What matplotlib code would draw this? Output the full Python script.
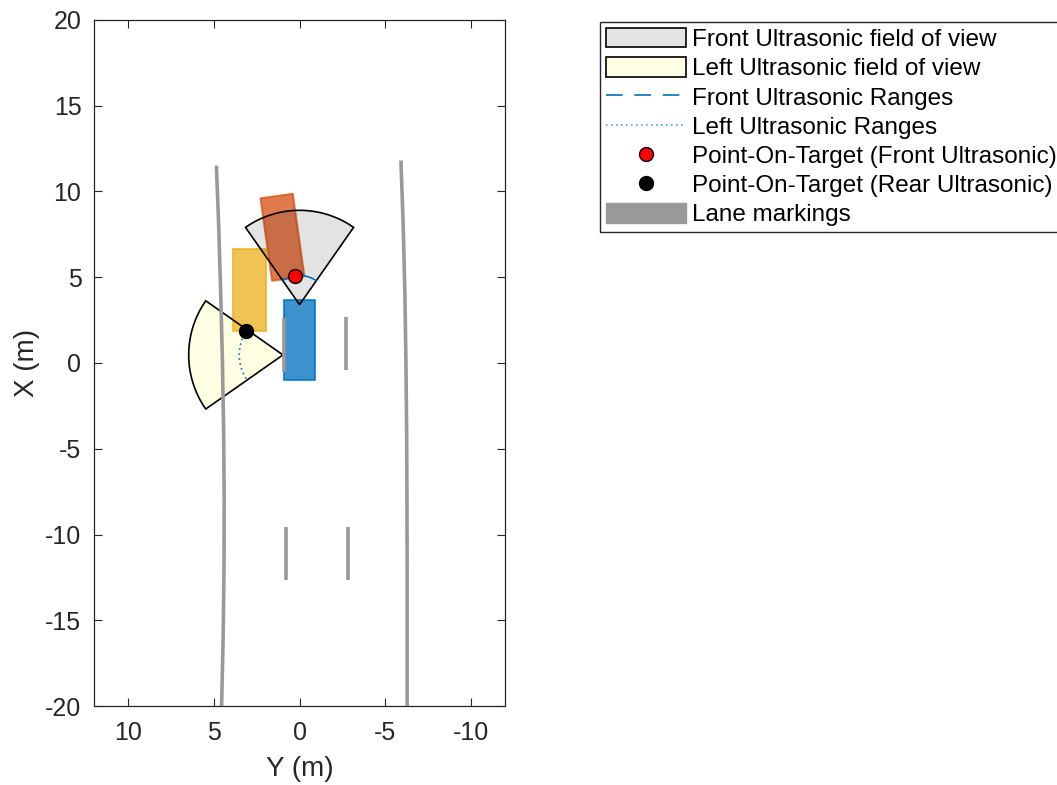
import numpy as np
import matplotlib
matplotlib.use("Agg")
import matplotlib.pyplot as plt
from matplotlib.patches import Polygon, Patch
from matplotlib.lines import Line2D

plt.rcParams['font.family'] = ['Liberation Sans', 'DejaVu Sans']
plt.rcParams['axes.unicode_minus'] = False

# vehicles: X (forward), Y (left), length, width, yaw (deg), colour
car_names = ["ego", "car1", "car2"]
car_x = [1.33, 4.25, 7.33]
car_y = [0.0, 2.93, 1.0]
car_len = [4.7, 4.8, 4.85]
car_wid = [1.85, 1.9, 1.9]
car_yaw = [0.0, 0.0, 8.0]
car_col = ['#0072BD', '#EDB120', '#D95319']

# ultrasonic sensors: mount X, Y, yaw (deg), fov (deg), max range
sens_names = ["Front Ultrasonic", "Left Ultrasonic"]
sens_x = [3.4, 0.47]
sens_y = [0.0, 0.97]
sens_yaw = [0.0, 90.0]
sens_fov = [70.0, 70.0]
sens_rng = [5.5, 5.5]
sens_face = [(0, 0, 0, 0.11), (1, 1, 0, 0.11)]

# measured ranges
range_val = [1.7, 2.55]

# points on target (X, Y)
pot_front = [5.07, 0.29]
pot_rear = [1.87, 3.1]

# lane boundaries (X, Y)
left_lane_x = [11.4, 8.0, 4.0, 0.0, -4.0, -8.0, -12.0, -16.0, -20.0]
left_lane_y = [4.85, 4.72, 4.60, 4.50, 4.43, 4.40, 4.41, 4.46, 4.55]
right_lane_x = [11.7, 8.0, 4.0, 0.0, -4.0, -8.0, -12.0, -16.0, -20.0]
right_lane_y = [-5.92, -6.05, -6.15, -6.21, -6.25, -6.27, -6.28, -6.28, -6.28]

# dashed centre markings: X start, X end, Y
dash_x0 = [2.65, 2.7, -9.55, -9.55]
dash_x1 = [-0.5, -0.4, -12.65, -12.65]
dash_y = [0.89, -2.72, 0.77, -2.8]

fig = plt.figure(figsize=(10.57, 7.85), dpi=100)
ax = fig.add_axes([0.0889, 0.1006, 0.389, 0.874])

# cars
for i in range(len(car_names)):
    yaw = np.deg2rad(car_yaw[i])
    hl, hw = car_len[i] / 2, car_wid[i] / 2
    corners = np.array([[hl, hw], [hl, -hw], [-hl, -hw], [-hl, hw]])
    cx = car_x[i] + corners[:, 0] * np.cos(yaw) - corners[:, 1] * np.sin(yaw)
    cy = car_y[i] + corners[:, 0] * np.sin(yaw) + corners[:, 1] * np.cos(yaw)
    ax.add_patch(Polygon(np.column_stack([cy, cx]), closed=True, facecolor=car_col[i],
                         edgecolor=car_col[i], alpha=0.77, lw=1.5, joinstyle='round', zorder=1))

# sensor coverage
for i in range(len(sens_names)):
    a = np.deg2rad(np.linspace(sens_yaw[i] - sens_fov[i] / 2, sens_yaw[i] + sens_fov[i] / 2, 60))
    px = np.concatenate([[sens_x[i]], sens_x[i] + sens_rng[i] * np.cos(a)])
    py = np.concatenate([[sens_y[i]], sens_y[i] + sens_rng[i] * np.sin(a)])
    ax.add_patch(Polygon(np.column_stack([py, px]), closed=True, facecolor=sens_face[i],
                         edgecolor='k', lw=1.2, zorder=2))

# lanes
ax.plot(left_lane_y, left_lane_x, color='#999999', lw=2.6, zorder=3)
ax.plot(right_lane_y, right_lane_x, color='#999999', lw=2.6, zorder=3)
for i in range(len(dash_y)):
    ax.plot([dash_y[i], dash_y[i]], [dash_x0[i], dash_x1[i]], color='#999999', lw=2.6,
            solid_capstyle='butt', zorder=3)

# ranges
styles = [(0, (10, 7)), (0, (1, 2))]
for i in range(len(sens_names)):
    a = np.deg2rad(np.linspace(sens_yaw[i] - sens_fov[i] / 2, sens_yaw[i] + sens_fov[i] / 2, 40))
    ax.plot(sens_y[i] + range_val[i] * np.sin(a), sens_x[i] + range_val[i] * np.cos(a),
            color='#0072BD', ls=styles[i], lw=1.2, zorder=4)

ax.plot(pot_front[1], pot_front[0], 'o', ms=10, mfc='red', mec='k', zorder=5)
ax.plot(pot_rear[1], pot_rear[0], 'o', ms=10, mfc='k', mec='k', zorder=5)

ax.set_xlim(12, -12)
ax.set_ylim(-20, 20)
ax.set_xticks([10, 5, 0, -5, -10])
ax.set_yticks(np.arange(-20, 21, 5))
ax.tick_params(direction='in', length=6, width=0.8, top=True, right=True,
               labelsize=18, colors='0.15', pad=9)
ax.tick_params(axis='x', pad=11)
for s in ax.spines.values():
    s.set_color('0.15')
    s.set_linewidth(0.9)
ax.set_xlabel("Y (m)", fontsize=20, color='0.15', labelpad=8)
ax.set_ylabel("X (m)", fontsize=20, color='0.15', labelpad=4)

handles = [
    Patch(facecolor=sens_face[0], edgecolor='k', lw=1.2),
    Patch(facecolor=sens_face[1], edgecolor='k', lw=1.2),
    Line2D([], [], color='#0072BD', ls=(0, (10, 7)), lw=1.2),
    Line2D([], [], color='#4DA6E8', ls=(0, (1, 2)), lw=1.2),
    Line2D([], [], ls='none', marker='o', ms=10, mfc='red', mec='k'),
    Line2D([], [], ls='none', marker='o', ms=10, mfc='k', mec='k'),
    Patch(facecolor='#999999', edgecolor='#999999'),
]
labels = ["Front Ultrasonic field of view", "Left Ultrasonic field of view",
          "Front Ultrasonic Ranges", "Left Ultrasonic Ranges",
          "Point-On-Target (Front Ultrasonic)", "Point-On-Target (Rear Ultrasonic)",
          "Lane markings"]
leg = fig.legend(handles, labels, loc='upper left', bbox_to_anchor=(0.5676, 0.972),
                 borderaxespad=0, fontsize=17.5, handlelength=3.3, handleheight=0.85,
                 handletextpad=0.25, labelspacing=0.25, borderpad=0.25,
                 fancybox=False, framealpha=1)
leg.get_frame().set_edgecolor('0.15')
leg.get_frame().set_linewidth(1.0)

fig.savefig("out.png", dpi=100)
